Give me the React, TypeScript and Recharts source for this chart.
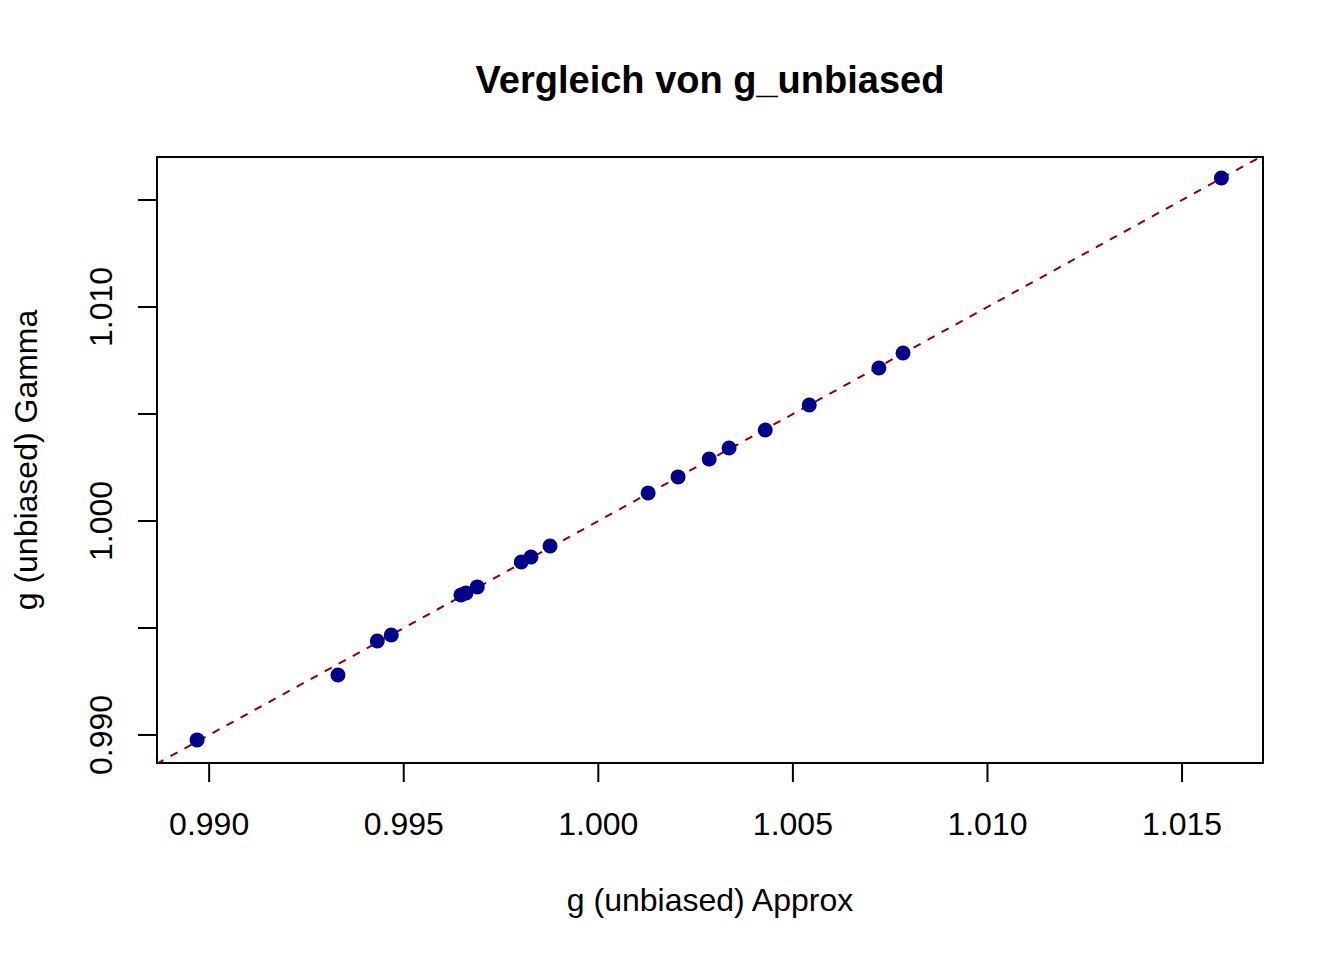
import React from 'react';
import { ScatterChart, Scatter, XAxis, YAxis, ReferenceLine, ReferenceArea, Customized } from 'recharts';

const gApprox = [0.98969, 0.99331, 0.99432, 0.99468, 0.99647, 0.9966, 0.99689, 0.99802, 0.99827, 0.99876, 1.00128, 1.00205, 1.00285, 1.00336, 1.00429, 1.00542, 1.00721, 1.00783, 1.01601];
const gGamma = [0.98977, 0.9928, 0.99439, 0.99467, 0.99654, 0.99664, 0.99692, 0.99808, 0.99832, 0.99883, 1.00131, 1.00206, 1.0029, 1.00341, 1.00425, 1.00542, 1.00715, 1.00785, 1.01603];
const xTicks = [0.99, 0.995, 1.0, 1.005, 1.01, 1.015];
const yTicks = [0.99, 0.995, 1.0, 1.005, 1.01, 1.015];
const yTickLabels = ['0.990', '', '1.000', '', '1.010', ''];
const xDomain = [0.98866, 1.01708];
const yDomain = [0.98869, 1.01701];
const titleText = 'Vergleich von g_unbiased';
const xLabel = 'g (unbiased) Approx';
const yLabel = 'g (unbiased) Gamma';

const data = gApprox.map((x, i) => ({ x, y: gGamma[i] }));

const FONT = '"Liberation Sans", Arial, sans-serif';

const YTick = (props: any) => {
  const { x, y, payload } = props;
  const idx = yTicks.findIndex((t) => Math.abs(t - payload.value) < 1e-9);
  const txt = idx >= 0 ? yTickLabels[idx] : '';
  if (!txt) return <g />;
  return (
    <text x={x} y={y} transform={`rotate(-90, ${x}, ${y})`} textAnchor="middle" fontSize={32} fontFamily={FONT} fill="#000">
      {txt}
    </text>
  );
};

const YLabel = (props: any) => {
  const vb = props.viewBox;
  const x = vb.x + 37;
  const y = vb.y + vb.height / 2;
  return (
    <text x={x} y={y} transform={`rotate(-90, ${x}, ${y})`} textAnchor="middle" fontSize={32} fontFamily={FONT} fill="#000">
      {yLabel}
    </text>
  );
};

const Title = () => (
  <text x={710} y={93} textAnchor="middle" fontSize={38} fontWeight="bold" fontFamily={FONT} fill="#000">
    {titleText}
  </text>
);

const Dot = (props: any) => <circle cx={props.cx} cy={props.cy} r={7.5} fill="#00008B" />;

export default function App() {
  return (
    <div style={{ position: 'absolute', left: 0, top: 0, background: '#fff' }}>
      <ScatterChart width={1344} height={960} margin={{ top: 157, right: 81, bottom: 0, left: 0 }} style={{ fontFamily: FONT }}>
        <XAxis
          type="number"
          dataKey="x"
          domain={xDomain}
          allowDataOverflow
          ticks={xTicks}
          interval={0}
          height={197}
          tickSize={19}
          tickMargin={30}
          axisLine={false}
          tickLine={{ stroke: '#000', strokeWidth: 2 }}
          tick={{ fontSize: 32, fill: '#000', fontFamily: FONT }}
          tickFormatter={(v: number) => v.toFixed(3)}
          label={{ value: xLabel, position: 'insideBottom', offset: 49, fontSize: 32, fill: '#000', fontFamily: FONT }}
        />
        <YAxis
          type="number"
          dataKey="y"
          domain={yDomain}
          allowDataOverflow
          ticks={yTicks}
          interval={0}
          width={157}
          tickSize={19}
          tickMargin={26}
          axisLine={false}
          tickLine={{ stroke: '#000', strokeWidth: 2 }}
          tick={<YTick />}
          label={<YLabel />}
        />
        <Scatter data={data} isAnimationActive={false} shape={<Dot />} />
        <ReferenceLine
          segment={[{ x: 0.98, y: 0.98 }, { x: 1.02, y: 1.02 }]}
          ifOverflow="hidden"
          stroke="#8B0000"
          strokeWidth={2}
          strokeDasharray="8 8"
        />
        <ReferenceArea
          x1={xDomain[0]}
          x2={xDomain[1]}
          y1={yDomain[0]}
          y2={yDomain[1]}
          fill="none"
          stroke="#000"
          strokeWidth={2}
          ifOverflow="visible"
        />
        <Customized component={Title} />
      </ScatterChart>
    </div>
  );
}
